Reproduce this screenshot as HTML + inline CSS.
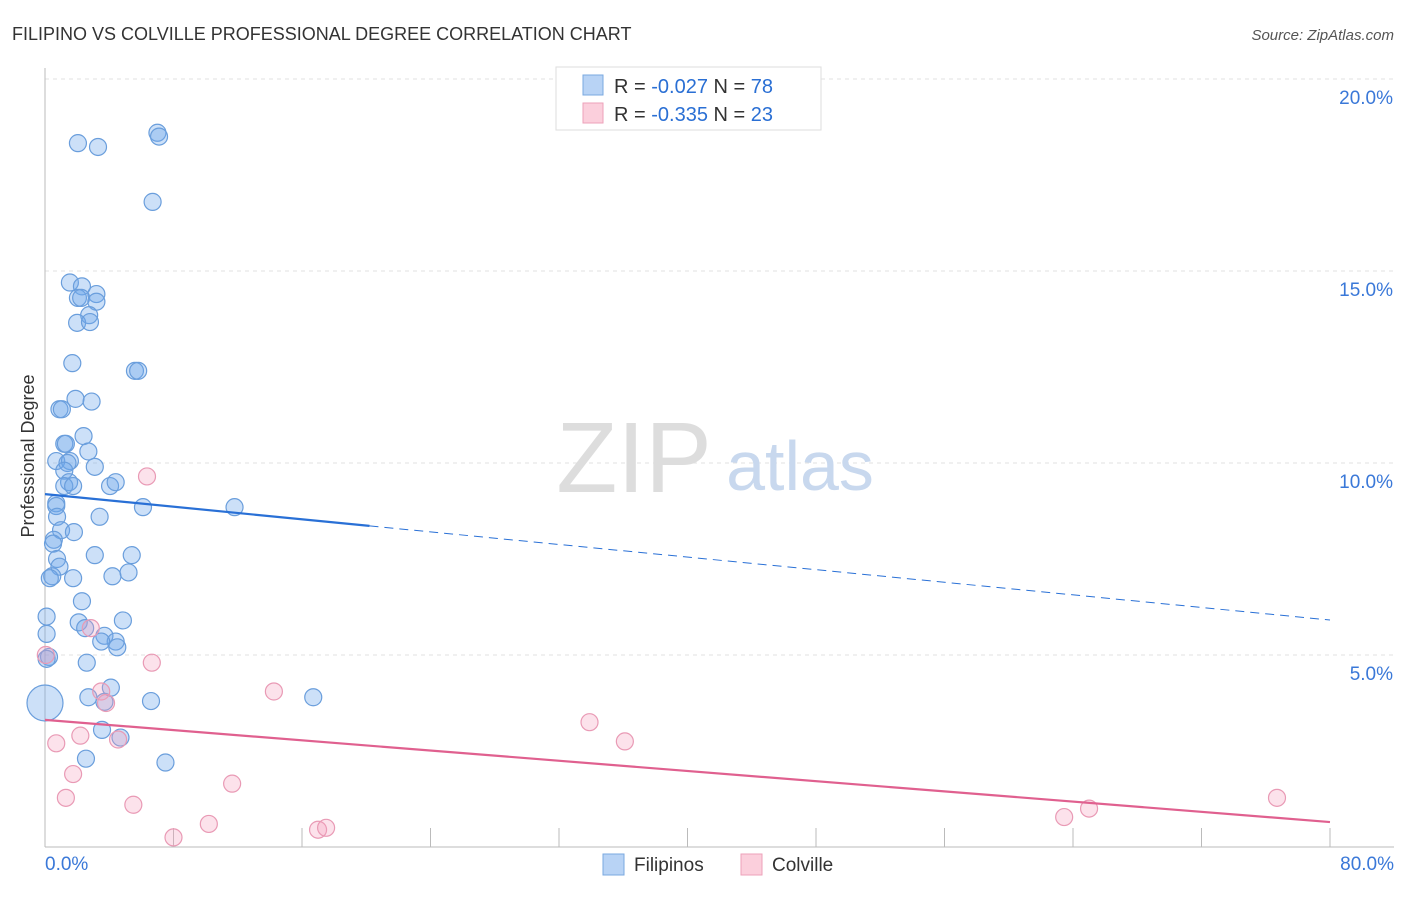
<!DOCTYPE html>
<html><head><meta charset="utf-8"><style>
body{margin:0;background:#fff;font-family:"Liberation Sans",sans-serif;}
svg text{font-family:"Liberation Sans",sans-serif;}
</style></head><body>
<svg id="chart" width="1406" height="892" viewBox="0 0 1406 892">
<text x="12" y="40" font-size="18" fill="#333">FILIPINO VS COLVILLE PROFESSIONAL DEGREE CORRELATION CHART</text>
<text x="1394" y="40" font-size="15" fill="#555" font-style="italic" text-anchor="end">Source: ZipAtlas.com</text>
<g id="grid"></g>
<g id="axes"></g>
<text x="634" y="492" font-size="100" fill="#ddd" font-family="Liberation Serif" text-anchor="middle">ZIP</text>
<text x="800" y="490" font-size="70" fill="#c8d8ee" text-anchor="middle">atlas</text>
<text transform="translate(34,456) rotate(-90)" font-size="18" fill="#333" text-anchor="middle">Professional Degree</text>
<g id="marks"></g>
<g>
<rect x="556" y="67" width="265" height="63" fill="#fff" stroke="#ddd"/>
<rect x="583" y="75" width="20" height="20" fill="#b8d3f5" stroke="#7aa8e0"/>
<rect x="583" y="103" width="20" height="20" fill="#fbcfdc" stroke="#eca2ba"/>
<text x="614" y="93" font-size="20" fill="#333">R = <tspan fill="#2a6fd4">-0.027</tspan>   N = <tspan fill="#2a6fd4">78</tspan></text>
<text x="614" y="121" font-size="20" fill="#333">R = <tspan fill="#2a6fd4">-0.335</tspan>   N = <tspan fill="#2a6fd4">23</tspan></text>
</g>
<g>
<rect x="603" y="854" width="21" height="21" fill="#b8d3f5" stroke="#7aa8e0"/>
<text x="634" y="871" font-size="19" fill="#333">Filipinos</text>
<rect x="741" y="854" width="21" height="21" fill="#fbcfdc" stroke="#eca2ba"/>
<text x="772" y="871" font-size="19" fill="#333">Colville</text>
</g>
</svg>
<script>
const yTicks=[5,10,15,20];
const yTickLabels=["5.0%","10.0%","15.0%","20.0%"];
const xTicks=[0,8,16,24,32,40,48,56,64,72,80];
const xEndLabels=["0.0%","80.0%"];
const filX=[2.05,3.3,7.0,7.1,6.7,1.55,2.3,2.05,2.25,3.2,3.2,2.75,2.0,2.8,1.7,5.6,5.8,1.9,2.9,0.9,1.05,2.4,1.2,1.3,2.7,0.7,1.55,1.4,3.1,1.2,1.5,1.2,1.75,4.05,4.4,0.7,0.7,6.1,11.8,0.75,3.4,1.0,1.8,0.55,0.5,3.1,5.4,0.75,0.9,0.45,0.3,1.75,4.2,5.2,2.3,0.1,4.85,2.1,2.5,0.1,3.7,4.4,3.5,4.5,0.25,0.1,2.6,4.1,2.7,6.6,16.7,0.0,3.7,3.55,4.7,2.55,7.5];
const filY=[18.33,18.23,18.6,18.5,16.8,14.7,14.6,14.3,14.3,14.4,14.2,13.85,13.65,13.67,12.6,12.4,12.4,11.67,11.6,11.4,11.4,10.7,10.5,10.5,10.3,10.05,10.05,10.0,9.9,9.8,9.5,9.4,9.4,9.4,9.5,8.95,8.88,8.85,8.85,8.6,8.6,8.25,8.2,8.0,7.9,7.6,7.6,7.5,7.3,7.05,7.0,7.0,7.05,7.15,6.4,6.0,5.9,5.85,5.7,5.55,5.5,5.35,5.35,5.2,4.95,4.9,4.8,4.15,3.9,3.8,3.9,3.75,3.78,3.05,2.85,2.3,2.2];
const colX=[6.35,2.85,0.05,6.65,14.25,3.5,3.8,4.55,0.7,2.2,33.9,36.1,1.75,11.65,1.3,5.5,10.2,8.0,17.0,17.5,63.45,65.0,76.7];
const colY=[9.65,5.7,5.0,4.8,4.05,4.05,3.75,2.8,2.7,2.9,3.25,2.75,1.9,1.65,1.28,1.1,0.6,0.25,0.45,0.5,0.78,1.0,1.28];
const filTrend=[9.19,5.91];
const colTrend=[3.31,0.65];
const NS="http://www.w3.org/2000/svg";
const X=v=>45+v*(1285/80);
const Y=v=>847-v*38.4;
function mk(tag,attrs,parent){const e=document.createElementNS(NS,tag);for(const k in attrs)e.setAttribute(k,attrs[k]);parent.appendChild(e);return e;}
const grid=document.getElementById('grid'),axes=document.getElementById('axes'),marks=document.getElementById('marks');
yTicks.forEach((t,i)=>{
 const l=mk('line',{x1:45,x2:1394,y1:Y(t),y2:Y(t),stroke:'#e2e2e2','stroke-dasharray':'4,4'},grid);
 
 
 const tx=mk('text',{x:1393,y:Y(t)+25,'font-size':19,fill:'#3a78d8','text-anchor':'end'},axes);
 tx.textContent=yTickLabels[i];
 
 
});
const a1=mk('line',{x1:45,x2:45,y1:68,y2:847,stroke:'#bbb'},axes);


const a2=mk('line',{x1:45,x2:1394,y1:847,y2:847,stroke:'#bbb'},axes);


xTicks.forEach(t=>{
 const l=mk('line',{x1:X(t),x2:X(t),y1:828,y2:847,stroke:'#bbb'},axes);
 
 
});
[[0,'start'],[80,'end']].forEach((p,i)=>{
 const tx=mk('text',{x:i?1394:45,y:870,'font-size':19,fill:'#3a78d8','text-anchor':p[1]},axes);
 tx.textContent=xEndLabels[i];
 
 
});
filX.forEach((x,i)=>{
 const big=(x===0);
 const c=mk('circle',{cx:X(x),cy:Y(filY[i]),r:big?18:8.5,fill:'rgba(110,165,235,0.35)',stroke:'#6a9edc','stroke-width':1.2},marks);
 
 
});
colX.forEach((x,i)=>{
 const c=mk('circle',{cx:X(x),cy:Y(colY[i]),r:8.5,fill:'rgba(245,160,190,0.3)',stroke:'#e99ab5','stroke-width':1.2},marks);
 
 
});
const fy=x=>filTrend[0]+(filTrend[1]-filTrend[0])*x/80;
const t1=mk('line',{x1:X(0),y1:Y(fy(0)),x2:X(20.2),y2:Y(fy(20.2)),stroke:'#2970d6','stroke-width':2.2},marks);


const t2=mk('line',{x1:X(20.2),y1:Y(fy(20.2)),x2:X(80),y2:Y(fy(80)),stroke:'#2970d6','stroke-width':1,'stroke-dasharray':'9,6'},marks);


const t3=mk('line',{x1:X(0),y1:Y(colTrend[0]),x2:X(80),y2:Y(colTrend[1]),stroke:'#e0608f','stroke-width':2.2},marks);


</script>
</body></html>
